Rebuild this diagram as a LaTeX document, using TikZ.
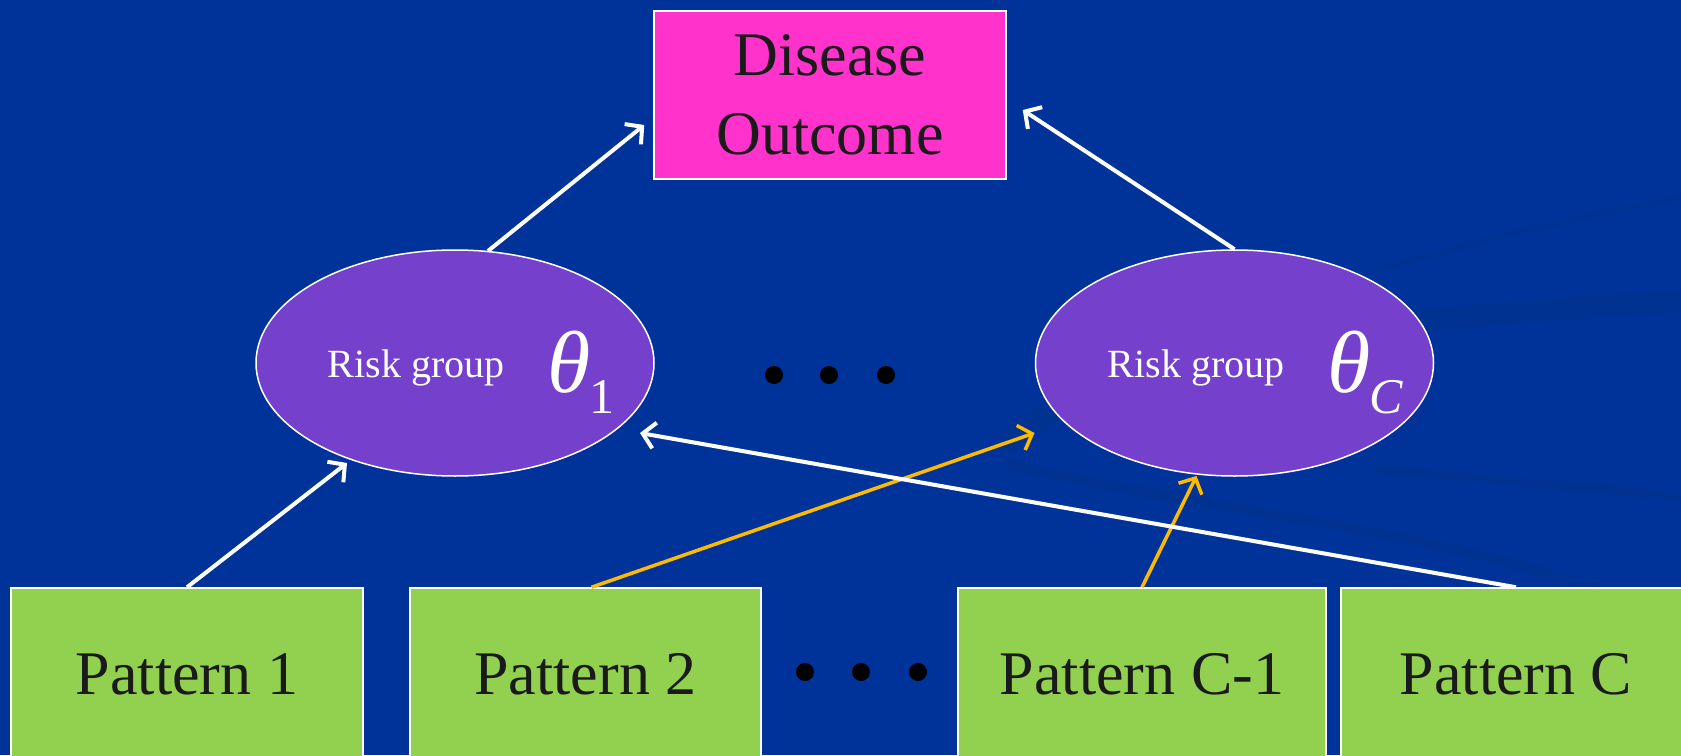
\documentclass[tikz,border=0pt]{standalone}
\usepackage{fontspec}
\setmainfont{Liberation Serif}
\usetikzlibrary{arrows.meta,shapes.geometric}
\definecolor{bg}{HTML}{003399}
\definecolor{swoosh}{HTML}{003292}
\definecolor{magentabox}{HTML}{FF33CC}
\definecolor{purpleell}{HTML}{7440CC}
\definecolor{greenbox}{HTML}{92D050}
\definecolor{orangearr}{HTML}{FFBA00}
\definecolor{inktext}{HTML}{1A1A1A}
\newcommand{\thetasym}[1]{{\fontsize{88pt}{90pt}\selectfont\itshape θ}\kern-1pt\raisebox{-21pt}{\fontsize{50pt}{52pt}\selectfont #1}}
\begin{document}
\begin{tikzpicture}[x=1pt,y=-1pt,
  outbox/.style={draw=white,line width=1.5pt,fill=magentabox,minimum width=352pt,minimum height=168pt,inner sep=0pt,align=center,text=inktext,font=\fontsize{62pt}{79pt}\selectfont},
  riskell/.style={ellipse,draw=white,line width=1.5pt,fill=purpleell,minimum width=398pt,minimum height=226pt,inner sep=0pt},
  patbox/.style={draw=white,line width=1.5pt,fill=greenbox,minimum height=172pt,inner sep=0pt,text=inktext,font=\fontsize{62pt}{70pt}\selectfont},
  risktext/.style={text=white,font=\fontsize{40pt}{44pt}\selectfont,anchor=base,inner sep=0pt},
  thetatext/.style={text=white,anchor=base west,inner sep=0pt},
  dotmark/.style={circle,fill=black,minimum size=18pt,inner sep=0pt},
  warrow/.style={draw=white,line width=4pt,-{Straight Barb[length=12pt,width=26pt]}},
  oarrow/.style={draw=orangearr,line width=3.5pt,-{Straight Barb[length=12pt,width=26pt]}},
  swooshband/.style={draw=swoosh,line cap=round}
]
\fill[bg] (0,0) rectangle (1681,755);
\useasboundingbox (0,0) rectangle (1681,755);

% faint background swooshes
\draw[swooshband,line width=22pt] (1010,440) .. controls (1150,330) and (1400,320) .. (1700,300);
\draw[swooshband,line width=10pt] (1010,465) .. controls (1250,520) and (1550,540) .. (1700,640);
\draw[swooshband,line width=8pt] (1380,470) .. controls (1500,480) and (1620,490) .. (1700,500);
\draw[swooshband,line width=5pt] (1380,270) .. controls (1480,240) and (1580,215) .. (1700,195);

% nodes
\node[outbox] (d) at (830,95) {Disease\\Outcome};
\node[riskell] (e1) at (455,363) {};
\node[riskell] (e2) at (1234.5,363) {};
\node[risktext] (r1) at (416,377) {Risk group};
\node[risktext] (r2) at (1196,377) {Risk group};
\node[thetatext] (t1) at (547,392) {\thetasym{1}};
\node[thetatext] (t2) at (1327,392) {\thetasym{\itshape C}};

\node[patbox,minimum width=352pt] (p1) at (187,674) {Pattern 1};
\node[patbox,minimum width=351pt] (p2) at (585.5,674) {Pattern 2};
\node[patbox,minimum width=368pt] (p3) at (1142,674) {Pattern C-1};
\node[patbox,minimum width=350pt] (p4) at (1516,674) {Pattern C};

\node[dotmark] (m1) at (774,375) {};
\node[dotmark] (m2) at (829,375) {};
\node[dotmark] (m3) at (886,375) {};
\node[dotmark] (b1) at (805,672) {};
\node[dotmark] (b2) at (861,672) {};
\node[dotmark] (b3) at (918,672) {};

% connectors
\draw[warrow] (p1.north) -- ([shift={(-108,100)}]e1.center);
\draw[warrow] ([shift={(33,-112)}]e1.center) -- ([shift={(-9,30)}]d.west);
\draw[warrow] (e2.north) -- ([shift={(16,15)}]d.east);
\draw[oarrow] ([shift={(6,0)}]p2.north) -- ([shift={(-200,70)}]e2.center);
\draw[oarrow] (p3.north) -- ([shift={(-38,113)}]e2.center);
\draw[warrow] (p4.north) -- ([shift={(185,70)}]e1.center);
\end{tikzpicture}
\end{document}
